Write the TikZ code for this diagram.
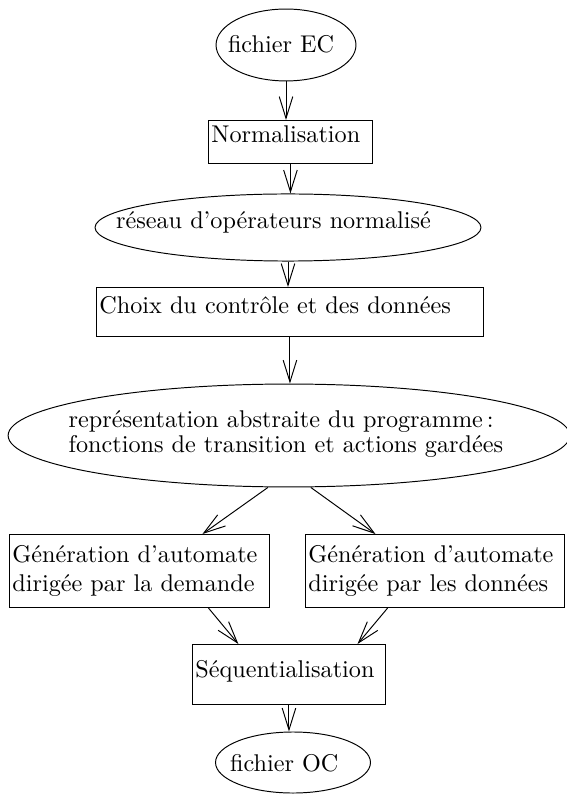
\documentclass[tikz,border=0pt]{standalone}
\usepackage{fontspec}
\usetikzlibrary{shapes.geometric,arrows.meta}

\begin{document}
\begin{tikzpicture}[x=0.413pt,y=-0.413pt,
		etape/.style={draw, rectangle, anchor=north west, align=left, inner xsep=1.2pt, inner ysep=2pt},
		donnee/.style={draw, ellipse, align=left, inner xsep=-20pt, inner ysep=-6pt},
		fleche/.style={-{Straight Barb[length=9pt,width=5.6pt]}}]
		\useasboundingbox (0,0) rectangle (566,795);
		
		\node[donnee, minimum width=57.8pt, minimum height=29.7pt, text width=47.9pt, text height=7pt, text depth=1.2pt] (ec) at (286,45) {fichier EC};
		\node[etape, text width=65.3pt, text height=7.1pt, text depth=6.7pt] (norm) at (208,120) {Normalisation};
		\node[donnee, minimum width=159.4pt, minimum height=27.7pt, text width=142pt, text height=7pt, text depth=5.8pt] (reseau) at (288,227.5) {réseau d'opérateurs normalisé};
		\node[etape, text width=157.4pt, text height=8.7pt, text depth=7.5pt] (choix) at (96,287) {Choix du contrôle et des données};
		\node[donnee, minimum width=232pt, minimum height=42.5pt, text width=182pt, text height=7pt, text depth=14pt] (repr) at (289,435.5) {représentation abstraite du programme\,:\\[-1.4pt]fonctions de transition et actions gardées};
		\node[etape, text width=105pt, text height=9.6pt, text depth=16.6pt] (genDem) at (9,534) {Génération d'automate\\dirigée par la demande};
		\node[etape, text width=104.6pt, text height=9.6pt, text depth=16.6pt] (genDon) at (305,534) {Génération d'automate\\dirigée par les données};
		\node[etape, text width=77.3pt, text height=11.6pt, text depth=9.2pt] (seq) at (192,644) {Séquentialisation};
		\node[donnee, minimum width=64pt, minimum height=25.2pt, text width=52pt, text height=7.8pt, text depth=0pt] (oc) at (293,762.5) {fichier OC};
		
		\draw[fleche] (ec.south) -- (ec.south |- norm.north);
		\draw[fleche] (norm.south) -- (norm.south |- reseau.north);
		\draw[fleche] (reseau.south) -- (reseau.south |- choix.north);
		\draw[fleche] (choix.south) -- (choix.south |- repr.north);
		\draw[fleche] ([xshift=-8.7pt]repr.south) -- ([xshift=26pt]genDem.north);
		\draw[fleche] ([xshift=9pt]repr.south) -- ([xshift=-24.6pt]genDon.north);
		\draw[fleche] ([xshift=28.5pt]genDem.south) -- ([xshift=-20.9pt]seq.north);
		\draw[fleche] ([xshift=-19.6pt]genDon.south) -- ([xshift=28.3pt]seq.north);
		\draw[fleche] (seq.south) -- (seq.south |- oc.north);
	\end{tikzpicture}
\end{document}
